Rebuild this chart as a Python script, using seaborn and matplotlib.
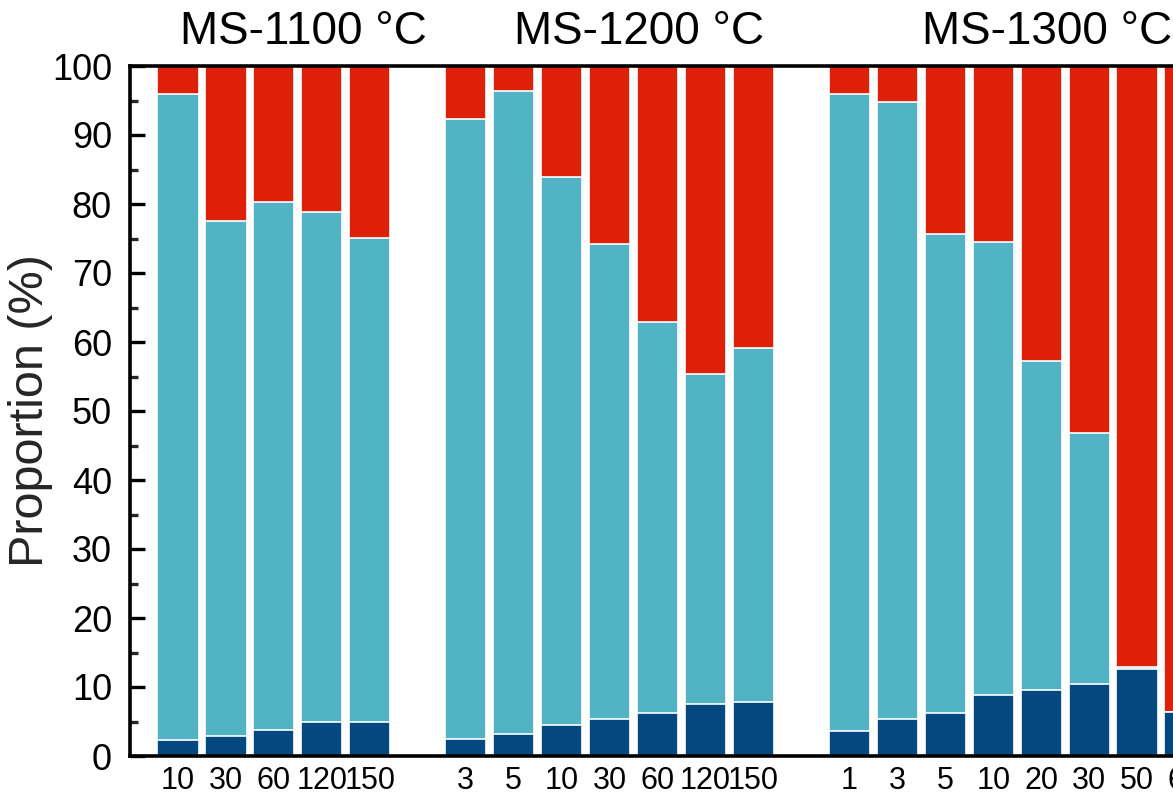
import numpy as np
import pandas as pd
import matplotlib
matplotlib.use("Agg")
import matplotlib.pyplot as plt
from matplotlib import font_manager
from matplotlib.ticker import MultipleLocator
import seaborn as sns

# Holding times (min) for each sintering temperature
times_1100 = ["10", "30", "60", "120", "150"]
times_1200 = ["3", "5", "10", "30", "60", "120", "150"]
times_1300 = ["1", "3", "5", "10", "20", "30", "50", "60"]

# Phase proportions (%): dark bottom layer and middle layer; top layer fills to 100
dark_1100 = [2.3, 2.9, 3.7, 4.9, 4.9]
mid_1100 = [93.7, 74.6, 76.6, 74.0, 70.2]

dark_1200 = [2.5, 3.2, 4.5, 5.4, 6.3, 7.5, 7.8]
mid_1200 = [89.8, 93.2, 79.4, 68.8, 56.6, 47.9, 51.3]

dark_1300 = [3.6, 5.4, 6.3, 8.9, 9.5, 10.4, 12.6, 6.4]
mid_1300 = [92.4, 89.4, 69.4, 65.6, 47.8, 36.4, 0.3, 0.0]

group_titles = ["MS-1100 \u00b0C", "MS-1200 \u00b0C", "MS-1300 \u00b0C"]

COL_DARK = "#03497f"
COL_MID = "#52b3c5"
COL_TOP = "#de2008"

sns.set_theme(style="ticks")
plt.rcParams["font.family"] = ["Liberation Sans", "DejaVu Sans"]

installed = {f.name for f in font_manager.fontManager.ttflist}
narrow = "Liberation Sans Narrow" if "Liberation Sans Narrow" in installed else "Liberation Sans"

# Lay the groups out on one axis with an empty slot between groups
groups = [(times_1100, dark_1100, mid_1100),
          (times_1200, dark_1200, mid_1200),
          (times_1300, dark_1300, mid_1300)]
rows = []
centers = []
pos = 0
for gi, (times, dark, mid) in enumerate(groups):
    start = pos
    for t, d, m in zip(times, dark, mid):
        rows.append({"pos": pos, "label": t, "dark": d, "mid_top": d + m, "total": 100.0})
        pos += 1
    centers.append((start + pos - 1) / 2)
    pos += 1
df = pd.DataFrame(rows)

fig = plt.figure(figsize=(11.73, 8.06), dpi=100)
ax = fig.add_axes([130 / 1173, 50 / 806, 1103 / 1173, 690 / 806])

bar_kw = dict(native_scale=True, width=0.86, edgecolor="white", linewidth=1.2,
              ax=ax, errorbar=None)
sns.barplot(data=df, x="pos", y="total", color=COL_TOP, saturation=1, **bar_kw)
sns.barplot(data=df, x="pos", y="mid_top", color=COL_MID, saturation=1, **bar_kw)
sns.barplot(data=df, x="pos", y="dark", color=COL_DARK, saturation=1, **bar_kw)

ax.set_xlim(-1, pos - 1)
ax.set_ylim(0, 100)
ax.set_xticks(df["pos"])
ax.set_xticklabels(df["label"], fontsize=22, family=[narrow, "DejaVu Sans"])
ax.tick_params(axis="x", length=0, pad=7, colors="black")
ax.yaxis.set_major_locator(MultipleLocator(10))
ax.yaxis.set_minor_locator(MultipleLocator(5))
ax.tick_params(axis="y", which="major", direction="in", length=11, width=2.4,
               labelsize=26, pad=13, colors="black")
ax.tick_params(axis="y", which="minor", direction="in", length=6, width=2.4)
ax.set_xlabel("")
ax.set_ylabel("Proportion (%)", fontsize=35)
ax.yaxis.set_label_coords(-0.07, 0.5)

for side in ["left", "bottom", "top", "right"]:
    ax.spines[side].set_visible(True)
    ax.spines[side].set_linewidth(2.6)
    ax.spines[side].set_color("black")

# Group titles above the plotting area
for c, title in zip(centers, group_titles):
    ax.text(c + 0.62, 1.032, title, transform=ax.get_xaxis_transform(),
            ha="center", va="baseline", fontsize=33, color="black", clip_on=False)

fig.savefig("out.png", dpi=100)
